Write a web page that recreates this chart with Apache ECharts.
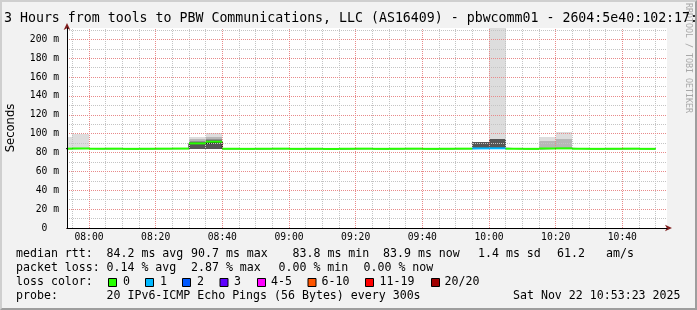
<!DOCTYPE html>
<html><head><meta charset="utf-8">
<script src="https://cdn.jsdelivr.net/npm/echarts@6/dist/echarts.min.js"></script>
<style>
html,body{margin:0;padding:0;background:#f2f2f2;overflow:hidden;}
#wrap{position:relative;width:697px;height:310px;box-sizing:border-box;border-top:2px solid #cfcfcf;border-left:2px solid #cfcfcf;border-right:2px solid #9e9e9e;border-bottom:2px solid #9e9e9e;background:#f2f2f2;}
#chart{position:absolute;left:-2px;top:-2px;width:697px;height:310px;}
</style></head>
<body><div id="wrap"><div id="chart"></div></div>
<script>
// ---- data ----
const titleText = '3 Hours from tools to PBW Communications, LLC (AS16409) - pbwcomm01 - 2604:5e40:102:17::2';
const rangeStart = '07:53:24';
const rangeMinutes = 180;
const times = ['07:50','07:55','08:00','08:05','08:10','08:15','08:20','08:25','08:30','08:35','08:40','08:45',
               '08:50','08:55','09:00','09:05','09:10','09:15','09:20','09:25','09:30','09:35','09:40','09:45',
               '09:50','09:55','10:00','10:05','10:10','10:15','10:20','10:25','10:30','10:35','10:40','10:45'];
const median = [84.1,84.3,84.0,84.1,83.9,84.0,84.1,84.2,89.7,91.5,84.0,83.9,
                84.0,84.1,83.9,84.0,83.8,84.0,84.1,83.9,84.0,84.1,83.9,84.0,
                84.1,84.4,84.5,84.0,83.9,84.3,84.4,84.0,83.9,84.0,84.1,83.9];
const lossCount = [0,0,0,0,0,0,0,0,0,0,0,0, 0,0,0,0,0,0,0,0,0,0,0,0, 0,1,1,0,0,0,0,0,0,0,0,0];
// smoke: ping RTTs (ms) at sorted ranks 1,3,5,7,9 | 12,14,16,18,20
const smokeTimes = ['07:50','07:55','08:30','08:35','09:55','10:00','10:15','10:20'];
const smokePings = [
  [84.0,84.1,84.2,84.2,84.3, 84.4,84.5,84.6,84.8,96.8],
  [84.0,84.1,84.2,84.2,84.3, 84.4,84.5,84.6,84.8,100.1],
  [83.5,83.6,83.7,83.8,83.9, 90.5,91.5,92.6,94.3,96.7],
  [83.5,83.6,83.7,83.8,84.0, 92.2,93.2,94.5,96.5,100.3],
  [84.2,84.2,84.3,84.3,84.4, 91.0,91.1,91.2,91.3,91.4],
  [84.2,84.2,84.3,84.3,84.4, 94.3,94.4,94.5,94.6,260.0],
  [83.9,84.0,84.0,84.1,84.2, 84.6,84.8,85.0,91.8,96.4],
  [83.9,84.0,84.0,84.1,84.2, 84.7,84.9,85.1,94.0,101.7]
];
// grid / tick values
const xMajorTicks = ['08:00','08:20','08:40','09:00','09:20','09:40','10:00','10:20','10:40'];
const yMajorTicks = [20,40,60,80,100,120,140,160,180,200];
const yMinorTicks = [10,30,50,70,90,110,130,150,170,190,210];
const lossLabels = ['0','1','2','3','4-5','6-10','11-19','20/20'];
const lossColors = ['#26ff00','#00b8ff','#0059ff','#5e00ff','#ff00ff','#ff5500','#ff0000','#a00000'];
const rttRow = ['median rtt:','84.2 ms avg','90.7 ms max','83.8 ms min','83.9 ms now','1.4 ms sd','61.2','am/s'];
const lossRow = ['packet loss:','0.14 % avg','2.87 % max','0.00 % min','0.00 % now'];
const probeRow = ['probe:','20 IPv6-ICMP Echo Pings (56 Bytes) every 300s'];
const dateText = 'Sat Nov 22 10:53:23 2025';
const yAxisName = 'Seconds';
const yMax = 212;

// ---- build ----
const toMin = t => { const p = t.split(':').map(Number); return p[0]*60 + p[1] + (p[2]||0)/60; };
const xMin = toMin(rangeStart), xMax = xMin + rangeMinutes;
const STEP = 5;
const lossClass = n => n<=3 ? n : n<=5 ? 4 : n<=10 ? 5 : n<=19 ? 6 : 7;
const smokeColors = ['#dddddd','#b7b7b7','#919191','#6b6b6b','#555555'];

const smokeData = [];
smokeTimes.forEach((t,i) => {
  const p = smokePings[i], s = toMin(t);
  for (let L = 0; L < 5; L++) smokeData.push([s, s+STEP, p[L], p[9-L], L]);
});
const medSeg = times.map((t,i) => [toMin(t), toMin(t)+STEP, median[i], lossClass(lossCount[i])]);
const stepData = times.map((t,i) => [toMin(t), median[i]]);
stepData.push([toMin(times[times.length-1])+STEP, median[median.length-1]]);

const xMajorMin = xMajorTicks.map(toMin);
const xMinorMin = [];
for (let m = Math.ceil(xMin/STEP)*STEP; m < xMax; m += STEP) if (xMajorMin.indexOf(m) < 0) xMinorMin.push(m);

const mono = 'DejaVu Sans Mono';
const pad2 = n => (n<10?'0':'')+n;
const fmtTime = v => { const h = Math.floor(v/60), m = Math.round(v - h*60); return pad2(h)+':'+pad2(m); };

const chart = echarts.init(document.getElementById('chart'), null, {renderer:'canvas'});

const legendFont = '11.6px "DejaVu Sans Mono"';
const gtext = (x, y, text, extra) => ({type:'text', x:x, y:y, style:Object.assign({text:text, font:legendFont, fill:'#000', verticalAlign:'middle', align:'left'}, extra||{})});
const rttX = [16,106.5,191,292.5,383,478,557,606];
const lossX = [16,106.5,191,278.5,363.5];
const boxX = [108,145,182,219.5,257,307.5,365,431];
const boxLabelX = [123,160,197,234,271,321.5,379.5,444.5];
const graphics = [];
rttRow.forEach((t,i)=>graphics.push(gtext(rttX[i],254,t)));
lossRow.forEach((t,i)=>graphics.push(gtext(lossX[i],268,t)));
graphics.push(gtext(16,282,'loss color:'));
lossLabels.forEach((t,i)=>{
  graphics.push({type:'rect', shape:{x:boxX[i]+0.5, y:278.5, width:8, height:8}, style:{fill:lossColors[i], stroke:'#000', lineWidth:1}});
  graphics.push(gtext(boxLabelX[i],282,t));
});
graphics.push(gtext(16,296,probeRow[0]));
graphics.push(gtext(106.5,296,probeRow[1]));
graphics.push(gtext(680.5,296,dateText,{align:'right'}));
graphics.push({type:'text', x:688, y:58, rotation:-Math.PI/2, style:{text:'RRDTOOL / TOBI OETIKER', font:'8.3px "DejaVu Sans Mono"', fill:'#a8a8a8', align:'center', verticalAlign:'middle'}});

const axisLab = {fontFamily:mono, fontSize:9.7, color:'#000'};
const RED = '#e88a8a';
const GRAY = '#c4c4c4';
const gl = (key, v, color) => ({[key]: v, lineStyle:{color:color, width:1, type:[1,1], opacity:1}});
const minorLines = [].concat(xMinorMin.map(v=>gl('xAxis', v, GRAY)), yMinorTicks.map(v=>gl('yAxis', v, GRAY)));
const majorLines = [].concat(xMajorMin.map(v=>gl('xAxis', v, RED)), yMajorTicks.map(v=>gl('yAxis', v, RED)));

chart.setOption({
  animation:false,
  backgroundColor:'transparent',
  title:{text:titleText, left:4, top:12, padding:0, textStyle:{fontFamily:mono, fontSize:13.25, fontWeight:'normal', color:'#000', lineHeight:14}},
  grid:{left:67, right:30, top:28, bottom:82, show:true, backgroundColor:'#ffffff', borderWidth:0, containLabel:false, outerBoundsMode:'none'},
  xAxis:[{
    type:'value', min:xMin, max:xMax, splitNumber:9, z:6,
    axisLine:{show:true, onZero:false, lineStyle:{color:'#000', width:1}},
    axisTick:{show:false},
    axisLabel:{...axisLab, margin:4, formatter:v => (Math.abs(v%20)<1e-6 ? fmtTime(v) : ''), showMinLabel:true, showMaxLabel:true},
    splitLine:{show:false}
  },{
    type:'value', min:xMin, max:xMax, position:'bottom', z:5,
    axisLine:{show:true, onZero:false, symbol:['none','arrow'], symbolSize:[5,7], symbolOffset:[0,5], lineStyle:{color:'#801f1f', width:1}},
    axisTick:{show:false}, axisLabel:{show:false}, splitLine:{show:false}
  }],
  yAxis:[{
    type:'value', min:0, max:yMax, interval:20, z:6,
    name:yAxisName, nameLocation:'middle', nameGap:50, nameRotate:90,
    nameTextStyle:{fontFamily:'DejaVu Sans', fontSize:11.6, color:'#000'},
    axisLine:{show:true, onZero:false, lineStyle:{color:'#000', width:1}},
    axisTick:{show:false},
    axisLabel:{...axisLab, margin:8, formatter:v => (v===0 ? '0  ' : (v%20===0 ? v+' m' : ''))},
    splitLine:{show:false}
  },{
    type:'value', min:0, max:yMax, position:'left', z:5,
    axisLine:{show:true, onZero:false, symbol:['none','arrow'], symbolSize:[5,7], symbolOffset:[0,5], lineStyle:{color:'#801f1f', width:1}},
    axisTick:{show:false}, axisLabel:{show:false}, splitLine:{show:false}
  }],
  graphic:graphics,
  series:[
    {type:'custom', name:'smoke', xAxisIndex:0, yAxisIndex:0, clip:true, z:2,
     data:smokeData, encode:{x:[0,1], y:[2,3]},
     renderItem:(params, api) => {
       const a = api.coord([api.value(0), api.value(3)]);
       const b = api.coord([api.value(1), api.value(2)]);
       const x1 = Math.round(a[0]), x2 = Math.round(b[0]);
       const y1 = Math.round(a[1]), y2 = Math.round(b[1]);
       return {type:'rect', shape:{x:x1, y:y1, width:x2-x1, height:y2-y1}, style:{fill:smokeColors[api.value(4)]}};
     }},
    {type:'line', name:'minor grid', xAxisIndex:0, yAxisIndex:0, data:stepData, symbol:'none', z:3, silent:true,
     color:GRAY, lineStyle:{opacity:0}, itemStyle:{color:GRAY},
     markLine:{silent:true, symbol:['none','none'], label:{show:false}, animation:false, precision:4,
               lineStyle:{color:GRAY, width:1, type:[1,1], opacity:1}, data:minorLines}},
    {type:'line', name:'major grid', xAxisIndex:0, yAxisIndex:0, data:stepData, symbol:'none', z:3, silent:true,
     color:RED, lineStyle:{opacity:0}, itemStyle:{color:RED},
     markLine:{silent:true, symbol:['none','none'], label:{show:false}, animation:false, precision:4,
               lineStyle:{color:RED, width:1, type:[1,1], opacity:1}, data:majorLines}},
    {type:'line', name:'median step', xAxisIndex:0, yAxisIndex:0, step:'end', data:stepData, symbol:'none', z:4,
     lineStyle:{color:'#000', width:1}},
    {type:'custom', name:'median', xAxisIndex:0, yAxisIndex:0, clip:true, z:5,
     data:medSeg, encode:{x:[0,1], y:2},
     renderItem:(params, api) => {
       const a = api.coord([api.value(0), api.value(2)]);
       const b = api.coord([api.value(1), api.value(2)]);
       return {type:'line', shape:{x1:a[0], y1:a[1], x2:b[0], y2:b[1]}, style:{stroke:lossColors[api.value(3)], lineWidth:2}};
     }}
  ]
});
</script></body></html>
